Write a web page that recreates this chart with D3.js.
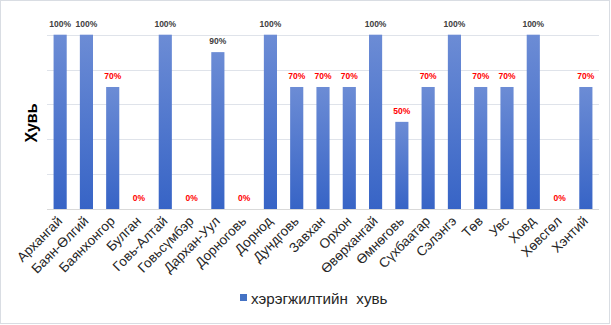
<!DOCTYPE html>
<html><head><meta charset="utf-8">
<script src="https://cdn.jsdelivr.net/npm/d3@7"></script>
<style>body{margin:0;background:#fff;} svg{display:block;font-family:"Liberation Sans",Arial,sans-serif;}</style>
</head><body>
<script>
const categories = ["Архангай","Баян-Өлгий","Баянхонгор","Булган","Говь-Алтай","Говьсүмбэр","Дархан-Уул","Дорноговь","Дорнод","Дундговь","Завхан","Орхон","Өвөрхангай","Өмнөговь","Сүхбаатар","Сэлэнгэ","Төв","Увс","Ховд","Хөвсгөл","Хэнтий"];
const values = [100,100,70,0,100,0,90,0,100,70,70,70,100,50,70,100,70,70,100,0,70];
const yTicks = [0,20,40,60,80,100];
const seriesName = "хэрэгжилтийн  хувь";
const yTitle = "Хувь";

const W = 611, H = 325;
const svg = d3.select("body").append("svg").attr("width", W).attr("height", H);
svg.append("rect").attr("x",0.5).attr("y",0.5).attr("width",609).attr("height",323)
  .attr("fill","#fff").attr("stroke","#d9dde3");

const defs = svg.append("defs");
const g = defs.append("linearGradient").attr("id","barGrad").attr("x1",0).attr("y1",0).attr("x2",0).attr("y2",1);
g.append("stop").attr("offset","0%").attr("stop-color","#6c8cd5");
g.append("stop").attr("offset","100%").attr("stop-color","#3764c6");

const x = d3.scaleBand().domain(categories).range([47, 599]).paddingInner(0.5).paddingOuter(0.25);
const y = d3.scaleLinear().domain([0,100]).range([209, 34.7]);

svg.append("g").selectAll("line").data(yTicks).join("line")
  .attr("x1",47).attr("x2",599)
  .attr("y1",d=>Math.round(y(d))+0.5).attr("y2",d=>Math.round(y(d))+0.5)
  .attr("stroke",d=>d===0?"#d9d9d9":"#dfe3ea").attr("stroke-width",1);

svg.append("g").selectAll("rect").data(values).join("rect")
  .attr("x",(d,i)=>x(categories[i]))
  .attr("width",x.bandwidth())
  .attr("y",d=>y(d))
  .attr("height",d=>y(0)-y(d))
  .attr("fill","url(#barGrad)");

svg.append("g").selectAll("text").data(values).join("text")
  .attr("x",(d,i)=>x(categories[i])+x.bandwidth()/2)
  .attr("y",d=>y(d)-8)
  .attr("text-anchor","middle")
  .attr("font-size",8.5).attr("font-weight","bold")
  .attr("fill",d=>(d===100||d===90)?"#404040":"#ff0000")
  .text(d=>d+"%");

svg.append("g").selectAll("text").data(categories).join("text")
  .attr("transform",d=>`translate(${x(d)+x.bandwidth()/2+3},${222}) rotate(-45)`)
  .attr("text-anchor","end")
  .attr("font-size",13.5).attr("fill","#262626")
  .text(d=>d);

svg.append("text").attr("transform","translate(37,123) rotate(-90)")
  .attr("text-anchor","middle").attr("font-size",16).attr("font-weight","bold").attr("fill","#000")
  .text(yTitle);

svg.append("rect").attr("x",240).attr("y",294).attr("width",7).attr("height",7).attr("fill","#4472c4");
svg.append("text").attr("x",251).attr("y",303.5).attr("font-size",15.2).attr("fill","#262626")
  .style("white-space","pre").text(seriesName);
</script>
</body></html>
